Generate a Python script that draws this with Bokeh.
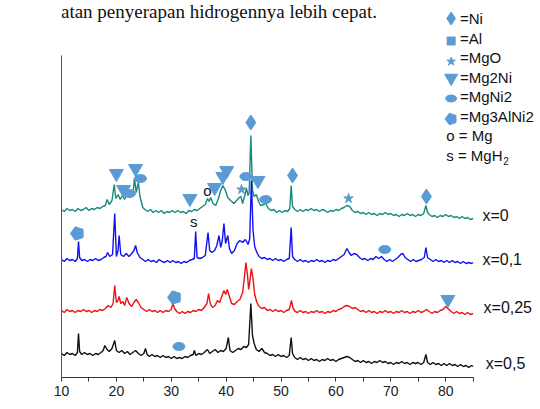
import math
from bokeh.plotting import figure
from bokeh.models import Label, FixedTicker, ColumnDataSource
from bokeh.core.properties import value
from bokeh.embed import file_html
from bokeh.resources import INLINE

# ---------------- data (stacked intensity, a.u.) ----------------
tt_00 = [10.0,10.5,11.0,11.5,12.0,12.5,13.0,13.5,14.0,14.5,15.0,15.5,16.0,16.5,17.0,17.5,18.0,18.3,18.7,19.2,
         19.6,19.9,20.3,20.7,21.1,21.5,21.9,22.3,22.7,23.0,23.3,23.6,24.0,24.3,24.8,25.2,25.7,26.2,26.7,27.2,
         27.7,28.2,28.7,29.2,29.7,30.2,30.7,31.2,31.7,32.2,32.7,33.2,33.7,34.2,34.7,35.2,35.7,36.2,36.6,36.9,
         37.2,37.6,38.1,38.6,39.0,39.4,39.8,40.3,40.8,41.4,41.9,42.4,42.7,43.0,43.4,43.7,44.0,44.2,44.5,44.8,
         45.1,45.5,45.9,46.3,46.8,47.2,47.7,48.2,48.7,49.2,49.7,50.2,50.7,51.2,51.6,51.85,52.1,52.5,53.0,53.5,
         54.0,54.5,55.0,55.5,56.0,56.5,57.0,57.5,58.0,58.5,59.0,59.5,60.0,60.5,61.0,61.5,62.0,62.5,63.0,63.5,
         64.0,64.5,65.0,65.5,66.0,66.5,67.0,67.5,68.0,68.5,69.0,69.5,70.0,70.5,71.0,71.5,72.0,72.5,73.0,73.5,
         74.0,74.5,75.0,75.5,76.0,76.4,76.7,77.0,77.5,78.0,78.5,79.0,79.5,80.0,80.5,81.0,81.5,82.0,82.5,83.0,
         83.5,84.0,84.5,85.0]
int_00 = [168,166,169,167,168,166,169,167,168,170,167,169,168,170,169,171,172,178,173,177,
          193,179,183,178,182,178,184,180,185,181,200,185,195,181,170,168,166,168,165,167,
          165,167,164,166,165,167,165,167,165,166,164,167,166,168,167,169,171,173,179,176,
          180,174,172,179,187,192,188,180,177,174,177,180,181,174,182,189,182,185,242,187,
          181,183,176,172,173,174,169,167,168,165,167,165,167,166,169,192,171,168,166,168,
          166,168,167,169,167,168,166,168,167,165,167,166,168,167,169,170,172,171,167,165,
          166,164,165,163,165,163,164,162,164,163,165,163,164,162,163,161,163,162,164,162,
          163,161,163,162,164,172,165,163,161,162,160,162,161,163,161,162,160,161,159,161,
          159,160,158,159]

tt_01 = [10.0,10.5,11.0,11.5,12.0,12.5,12.9,13.1,13.3,13.7,14.2,14.7,15.2,15.7,16.2,16.7,17.2,17.7,18.1,18.4,
         18.8,19.3,19.7,20.0,20.3,20.5,20.8,21.3,21.8,22.3,22.8,23.2,23.5,23.8,24.3,24.8,25.3,25.8,26.3,26.8,
         27.3,27.8,28.3,28.8,29.3,29.8,30.3,30.8,31.3,31.8,32.3,32.8,33.3,33.8,34.2,34.45,34.7,35.2,35.7,36.2,
         36.7,37.0,37.4,37.9,38.3,38.7,39.0,39.3,39.6,39.9,40.3,40.6,41.0,41.5,42.0,42.5,43.0,43.5,44.0,44.3,
         44.6,44.9,45.2,45.6,46.0,46.5,47.0,47.5,48.0,48.5,49.0,49.5,50.0,50.5,51.0,51.5,51.85,52.1,52.5,53.0,
         53.5,54.0,54.5,55.0,55.5,56.0,56.5,57.0,57.5,58.0,58.5,59.0,59.5,60.0,60.5,61.0,61.5,62.0,62.4,62.8,
         63.3,63.8,64.3,64.8,65.3,65.8,66.3,66.8,67.3,67.8,68.3,68.8,69.3,69.8,70.3,70.8,71.3,71.8,72.2,72.6,
         73.1,73.6,74.1,74.6,75.1,75.6,76.1,76.4,76.7,77.2,77.7,78.2,78.7,79.2,79.7,80.2,80.7,81.2,81.7,82.2,
         82.7,83.2,83.7,84.2,84.7,85.0]
int_01 = [118,116,119,117,118,116,119,136,120,117,118,116,118,117,119,117,118,120,121,125,
          121,123,164,121,127,142,123,121,124,121,124,127,132,125,120,118,116,118,116,117,
          115,118,116,115,117,115,117,115,116,114,116,115,117,118,119,146,120,119,120,122,
          145,127,125,127,132,142,130,137,154,134,142,129,124,127,134,137,135,138,133,139,
          197,147,131,125,121,119,120,118,119,117,119,117,118,116,118,119,150,121,118,116,
          118,116,117,115,117,116,118,116,117,115,117,116,118,117,119,121,123,129,125,122,
          124,123,120,118,119,117,119,118,121,119,121,118,116,118,116,118,120,123,124,120,
          118,116,118,116,117,118,120,130,120,118,116,118,116,117,115,117,115,117,115,116,
          114,116,114,115,114,115]

tt_025 = [10.0,10.5,11.0,11.5,12.0,12.5,13.0,13.5,14.0,14.5,15.0,15.5,16.0,16.5,17.0,17.5,18.0,18.5,19.0,19.4,
          19.7,20.0,20.3,20.5,20.8,21.2,21.5,21.9,22.3,22.8,23.2,23.6,24.0,24.5,25.0,25.5,26.0,26.5,27.0,27.5,
          28.0,28.5,29.0,29.5,30.0,30.3,30.6,31.0,31.5,32.0,32.5,33.0,33.5,34.0,34.5,35.0,35.5,36.0,36.5,36.8,
          37.1,37.5,38.0,38.4,38.8,39.2,39.6,39.9,40.2,40.6,41.0,41.5,42.0,42.5,43.0,43.3,43.6,43.9,44.1,44.3,
          44.6,44.9,45.2,45.6,46.0,46.5,47.0,47.5,48.0,48.5,49.0,49.5,50.0,50.5,51.0,51.5,51.9,52.2,52.6,53.0,
          53.5,54.0,54.5,55.0,55.5,56.0,56.5,57.0,57.5,58.0,58.5,59.0,59.5,60.0,60.5,61.0,61.5,62.0,62.5,63.0,
          63.5,64.0,64.5,65.0,65.5,66.0,66.5,67.0,67.5,68.0,68.5,69.0,69.5,70.0,70.5,71.0,71.5,72.0,72.5,73.0,
          73.5,74.0,74.5,75.0,75.5,76.0,76.5,77.0,77.5,78.0,78.5,79.0,79.5,80.0,80.4,81.0,81.5,82.0,82.5,83.0,
          83.5,84.0,84.5,85.0]
int_025 = [67,65,68,66,67,65,67,66,68,66,67,65,67,66,68,67,69,72,70,74,
           92,75,77,81,74,76,72,80,74,71,75,78,75,70,68,66,68,66,67,65,
           67,65,67,66,68,74,69,66,64,66,64,66,65,67,66,68,67,70,74,84,
           74,70,72,77,75,81,87,83,88,81,74,73,76,78,85,99,115,102,88,95,
           109,99,83,75,71,69,70,67,68,66,68,66,67,65,67,68,77,69,66,65,
           67,65,66,64,66,65,67,65,66,64,66,65,67,66,68,69,71,72,71,69,
           70,68,66,67,65,67,65,66,64,66,65,67,65,66,64,66,65,67,65,66,
           64,66,65,67,65,66,68,66,64,66,65,67,68,71,69,66,64,66,64,65,
           63,65,63,64]

tt_05 = [10.0,10.5,11.0,11.5,12.0,12.5,12.9,13.1,13.3,13.7,14.2,14.7,15.2,15.7,16.2,16.7,17.2,17.6,17.9,18.3,
         18.7,19.2,19.7,20.0,20.5,21.0,21.5,22.0,22.5,23.0,23.5,24.0,24.5,25.0,25.3,25.6,26.0,26.5,27.0,27.5,
         28.0,28.5,29.0,29.5,30.0,30.5,31.0,31.5,32.0,32.5,33.0,33.5,34.0,34.2,34.5,35.0,35.5,36.0,36.6,37.0,
         37.5,38.0,38.5,39.0,39.5,40.0,40.4,40.7,41.2,41.7,42.2,42.7,43.2,43.7,44.1,44.5,44.8,45.1,45.5,46.0,
         46.5,47.0,47.5,48.0,48.5,49.0,49.5,50.0,50.5,51.0,51.5,51.85,52.1,52.5,53.0,53.5,54.0,54.5,55.0,55.5,
         56.0,56.5,57.0,57.5,58.0,58.5,59.0,59.5,60.0,60.5,61.0,61.5,62.0,62.5,63.0,63.5,64.0,64.5,65.0,65.5,
         66.0,66.5,67.0,67.5,68.0,68.5,69.0,69.5,70.0,70.5,71.0,71.5,72.0,72.5,73.0,73.5,74.0,74.5,75.0,75.5,
         76.0,76.4,76.7,77.2,77.7,78.2,78.7,79.2,79.7,80.2,80.7,81.2,81.7,82.2,82.7,83.2,83.7,84.2,84.7,85.0]
int_05 = [24,22,25,23,24,22,25,44,26,23,25,23,24,22,24,23,25,27,32,28,
          26,29,37,27,25,27,24,26,23,25,27,24,22,24,29,23,21,23,21,22,
          20,22,20,21,19,21,19,20,19,21,20,22,23,27,22,24,23,25,28,24,
          26,28,25,27,26,29,40,27,25,27,29,28,31,30,33,74,42,34,28,26,
          29,25,24,22,23,21,23,21,22,20,22,40,24,20,18,20,18,19,17,19,
          17,18,16,18,17,19,17,18,16,18,19,20,21,20,18,16,17,15,17,15,
          16,14,16,15,17,15,16,14,15,13,15,14,16,14,15,13,15,14,15,13,
          15,23,15,13,15,13,14,12,14,12,14,12,13,11,13,11,12,10,12,11]

series_labels = ["x=0", "x=0,1", "x=0,25", "x=0,5"]
series_colors = ["#168a7b", "#1111ee", "#ee1111", "#111111"]

# phase markers on peaks (2theta, intensity level of marker)
ni_tt, ni_y = [44.5, 52.1, 76.5], [255, 202, 181]
mg2ni_tt = [20.0, 21.3, 23.5, 33.4, 37.9, 39.4, 40.1, 45.8, 80.4]
mg2ni_y = [204, 188, 209, 179, 190, 201, 207, 197, 78]
mgni2_tt = [22.4, 24.4, 43.6, 47.2, 68.9, 31.4]
mgni2_y = [184, 199, 201, 178, 128, 31]
mgo_tt, mgo_y = [42.8, 62.3], [188, 179]
mg3alni2_tt, mg3alni2_y = [12.9, 30.6], [144, 80]
mg_tt, mg_y = [36.6], [187]
mgh2_tt, mgh2_y = [34.1], [156]

legend_labels = ["=Ni", "=Al", "=MgO", "=Mg2Ni", "=MgNi2", "=Mg3AlNi2"]
legend_markers = ["diamond", "square", "star", "inverted_triangle", "ellipse", "pentagon"]

x_ticks = [10, 20, 30, 40, 50, 60, 70, 80]
x_minor = [15, 25, 35, 45, 55, 65, 75, 85]

MARK = "#5b9bd5"
SANS = "Liberation Sans"

# ---------------- figure ----------------
p = figure(width=540, height=409, output_backend="svg", toolbar_location=None,
           x_range=(10, 97.28), y_range=(0, 377))
p.min_border = 0
p.min_border_left = 61
p.min_border_bottom = 32
p.min_border_top = 0
p.min_border_right = 0
p.outline_line_color = None
p.grid.visible = False
p.background_fill_color = "white"
p.border_fill_color = "white"

xa = p.xaxis[0]
xa.bounds = (10, 85)
xa.ticker = FixedTicker(ticks=x_ticks, minor_ticks=x_minor)
xa.major_tick_in = 0
xa.major_tick_out = 4
xa.minor_tick_in = 0
xa.minor_tick_out = 4
xa.axis_line_color = "#333333"
xa.major_tick_line_color = "#333333"
xa.minor_tick_line_color = "#333333"
xa.major_label_text_font = SANS
xa.major_label_text_font_size = "14px"
xa.major_label_text_color = "#222222"
xa.major_label_standoff = 4

ya = p.yaxis[0]
ya.bounds = (0, 322)
ya.ticker = FixedTicker(ticks=[])
ya.major_tick_line_color = None
ya.minor_tick_line_color = None
ya.major_label_text_font_size = "0px"
ya.axis_line_color = "#555555"

# traces
for tt, yy, col in [(tt_00, int_00, series_colors[0]), (tt_01, int_01, series_colors[1]),
                    (tt_025, int_025, series_colors[2]), (tt_05, int_05, series_colors[3])]:
    p.line(tt, yy, line_color=col, line_width=1.4)

# series labels at right
lab_tt = [86.7, 86.7, 86.9, 87.3]
lab_y = [int_00[-1] + 3, int_01[-1] + 3, int_025[-1] + 6, int_05[-1] + 3]
p.text(x=lab_tt, y=lab_y, text=series_labels, text_font=value(SANS), text_font_size="16px",
       text_color="#111111", text_align="left", text_baseline="middle")

# phase markers
p.scatter(ni_tt, ni_y, marker="diamond", size=15, fill_color=MARK, line_color=MARK)
p.scatter(mg2ni_tt, mg2ni_y, marker="inverted_triangle", size=14, fill_color=MARK, line_color=MARK)
p.ellipse(mgni2_tt, mgni2_y, width=12, height=8, width_units="screen", height_units="screen",
          fill_color=MARK, line_color=MARK)
p.scatter(mgo_tt, mgo_y, marker="star", size=10, fill_color=MARK, line_color=MARK)


def pentagons(xs, ys, r):
    done = False
    try:
        from bokeh.models import Ngon
        src = ColumnDataSource(dict(x=xs, y=ys))
        g = Ngon(x="x", y="y", radius=r, radius_units="screen", n=5, angle=math.pi / 10,
                 fill_color=MARK, line_color=MARK)
        p.add_glyph(src, g)
        done = True
    except Exception:
        done = False
    if not done:
        p.scatter(xs, ys, marker="hex", size=2 * r, fill_color=MARK, line_color=MARK)


pentagons(mg3alni2_tt, mg3alni2_y, 7)

p.text(x=mg_tt, y=mg_y, text=["o"], text_font=value(SANS), text_font_size="15px",
       text_color="#111111", text_align="center", text_baseline="middle")
p.text(x=mgh2_tt, y=mgh2_y, text=["s"], text_font=value(SANS), text_font_size="15px",
       text_color="#111111", text_align="center", text_baseline="middle")

# legend (top right)
leg_mx = 81.0
leg_tx = 82.6
leg_y0 = 359
leg_dy = 19.5
rows_y = [leg_y0 - i * leg_dy for i in range(len(legend_labels) + 2)]
for i, (lab, mk) in enumerate(zip(legend_labels, legend_markers)):
    yy = rows_y[i]
    if mk == "ellipse":
        p.ellipse([leg_mx], [yy - 2], width=11, height=7, width_units="screen", height_units="screen",
                  fill_color=MARK, line_color=MARK)
    elif mk == "pentagon":
        pentagons([leg_mx], [yy - 3], 6)
    else:
        sz = {"diamond": 13, "square": 8, "star": 9, "inverted_triangle": 13}[mk]
        dy = {"diamond": 0, "square": -3, "star": -4, "inverted_triangle": -1}[mk]
        p.scatter([leg_mx], [yy + dy], marker=mk, size=sz, fill_color=MARK, line_color=MARK)
p.text(x=[leg_tx] * len(legend_labels), y=rows_y[:len(legend_labels)], text=legend_labels,
       text_font=value(SANS), text_font_size="15px", text_color="#111111",
       text_align="left", text_baseline="middle")
p.text(x=[80.1, 80.1], y=rows_y[-2:], text=["o = Mg", "s = MgH"], text_font=value(SANS),
       text_font_size="15px", text_color="#111111", text_align="left", text_baseline="middle")
p.add_layout(Label(x=80.1, y=rows_y[-1], x_offset=57, y_offset=-6, text="2", text_font=SANS,
                   text_font_size="10px", text_color="#111111", text_baseline="middle"))

# axis titles
p.add_layout(Label(x=44.4, y=-21, text="Sudut (2θ)", text_font=SANS, text_font_size="15px",
                   text_color="#222222", text_align="center", text_baseline="middle"))
p.add_layout(Label(x=1.98, y=141, text="Intensitas", angle=math.pi / 2, text_font=SANS,
                   text_font_size="14px", text_color="#222222", text_align="center",
                   text_baseline="middle"))

# document text above the figure
p.add_layout(Label(x=9.9, y=366, text="atan penyerapan hidrogennya lebih cepat.",
                   text_font="Liberation Serif", text_font_size="19px", text_color="#111111",
                   text_align="left", text_baseline="alphabetic"))

open("out.html", "w").write(file_html(p, INLINE))
